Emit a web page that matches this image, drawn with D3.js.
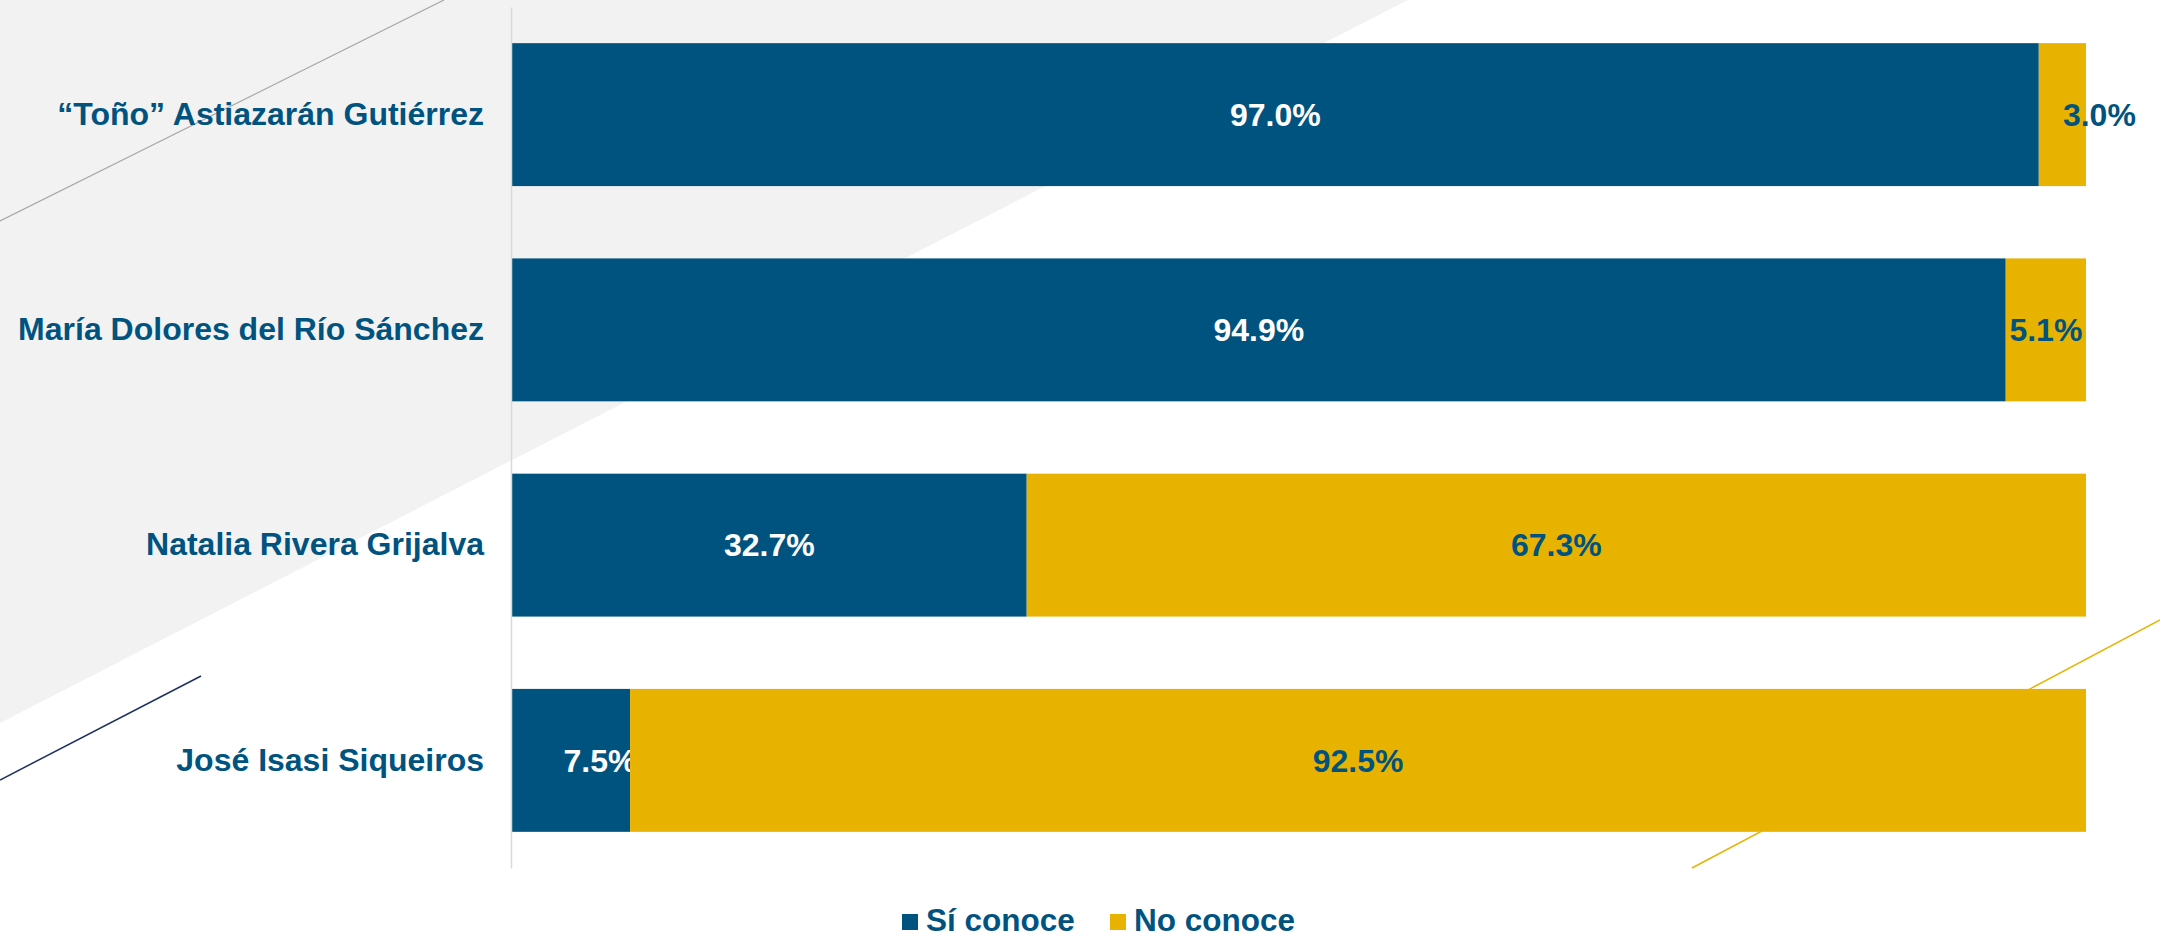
<!DOCTYPE html>
<html>
<head>
<meta charset="utf-8">
<script src="https://cdn.jsdelivr.net/npm/d3@7"></script>
<style>
  body { margin: 0; background: #ffffff; }
  svg { display: block; }
</style>
</head>
<body>
<div id="chart"></div>
<script>
// data
var candidatos = ["“Toño” Astiazarán Gutiérrez", "María Dolores del Río Sánchez", "Natalia Rivera Grijalva", "José Isasi Siqueiros"];
var siConoce = [97.0, 94.9, 32.7, 7.5];
var noConoce = [3.0, 5.1, 67.3, 92.5];
var series = ["Sí conoce", "No conoce"];

var W = 2160, H = 938;
var colors = { "Sí conoce": "#01537f", "No conoce": "#e8b300" };
var labelColor = { "Sí conoce": "#ffffff", "No conoce": "#01537f" };
var font = "'Liberation Sans', Arial, sans-serif";

var svg = d3.select("#chart").append("svg")
    .attr("width", W)
    .attr("height", H);

// background decoration
svg.append("path")
    .attr("d", "M0,0 L1408,0 L0,723 Z")
    .attr("fill", "#f2f2f2");
svg.append("line")
    .attr("x1", 0).attr("y1", 221).attr("x2", 444).attr("y2", 0)
    .attr("stroke", "#a6a6a6").attr("stroke-width", 1.2);
svg.append("line")
    .attr("x1", 0).attr("y1", 780).attr("x2", 201).attr("y2", 676)
    .attr("stroke", "#1f2e5e").attr("stroke-width", 1.5);
svg.append("line")
    .attr("x1", 1692).attr("y1", 868).attr("x2", 2160).attr("y2", 620)
    .attr("stroke", "#e8b300").attr("stroke-width", 1.5);

var rows = candidatos.map(function(c, i) {
    return { name: c, "Sí conoce": siConoce[i], "No conoce": noConoce[i] };
});

var stacked = d3.stack().keys(series)(rows);

var x = d3.scaleLinear()
    .domain([0, 100])
    .range([512, 2086]);

var y = d3.scaleBand()
    .domain(candidatos)
    .range([7, 868])
    .paddingInner(0.336)
    .paddingOuter(0.168);

// bars
var layers = svg.append("g")
    .selectAll("g")
    .data(stacked)
    .enter()
    .append("g")
    .attr("fill", function(d) { return colors[d.key]; });

layers.selectAll("rect")
    .data(function(d) { return d; })
    .enter()
    .append("rect")
    .attr("x", function(d) { return x(d[0]); })
    .attr("y", function(d) { return y(d.data.name); })
    .attr("width", function(d) { return x(d[1]) - x(d[0]); })
    .attr("height", y.bandwidth());

// small labels that were pushed aside in the original
var nudge = { "“Toño” Astiazarán Gutiérrez|No conoce": 37, "José Isasi Siqueiros|Sí conoce": 29 };

layers.each(function(layer) {
    d3.select(this).selectAll("text")
        .data(layer)
        .enter()
        .append("text")
        .attr("x", function(d) {
            return (x(d[0]) + x(d[1])) / 2 + (nudge[d.data.name + "|" + layer.key] || 0);
        })
        .attr("y", function(d) { return y(d.data.name) + y.bandwidth() / 2; })
        .attr("dy", "0.35em")
        .attr("text-anchor", "middle")
        .attr("fill", labelColor[layer.key])
        .style("font-family", font)
        .style("font-weight", "bold")
        .style("font-size", "32px")
        .text(function(d) { return (d[1] - d[0]).toFixed(1) + "%"; });
});

// category axis
var yAxis = svg.append("g")
    .attr("transform", "translate(511,0)")
    .call(d3.axisLeft(y).tickSize(0).tickPadding(27));

yAxis.select(".domain")
    .attr("stroke", "#d9d9d9")
    .attr("stroke-width", 1.5);

yAxis.selectAll("text")
    .attr("fill", "#01537f")
    .style("font-family", font)
    .style("font-weight", "bold")
    .style("font-size", "32px");

// legend
var legendX = [902, 1110];
var legend = svg.append("g")
    .selectAll("g")
    .data(series)
    .enter()
    .append("g")
    .attr("transform", function(d, i) { return "translate(" + legendX[i] + ",920)"; });

legend.append("rect")
    .attr("x", 0)
    .attr("y", -6)
    .attr("width", 16)
    .attr("height", 16)
    .attr("fill", function(d) { return colors[d]; });

legend.append("text")
    .attr("x", 24)
    .attr("dy", "0.35em")
    .attr("fill", "#01537f")
    .style("font-family", font)
    .style("font-weight", "bold")
    .style("font-size", "31.5px")
    .text(function(d) { return d; });
</script>
</body>
</html>
